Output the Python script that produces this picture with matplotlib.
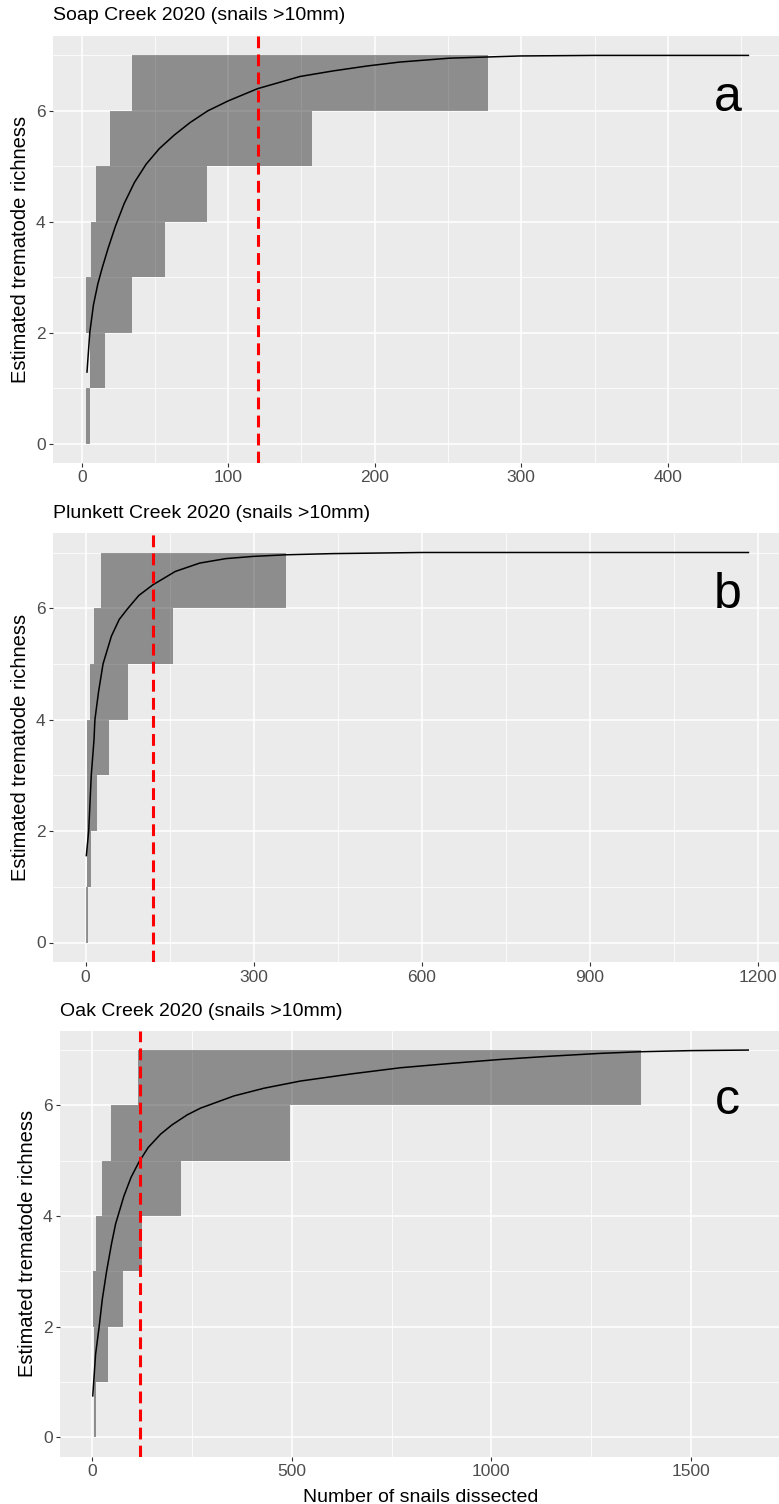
import matplotlib
matplotlib.use("Agg")
import matplotlib.pyplot as plt
import matplotlib.transforms as mtransforms
from matplotlib.ticker import MultipleLocator

plt.rcParams["font.family"] = ["Liberation Sans", "DejaVu Sans"]
plt.rcParams["lines.scale_dashes"] = False

W, H, DPI = 779, 1504, 100

# richness levels bounding each confidence step
levels = [0, 1, 2, 3, 4, 5, 6, 7]
cutoff = 120

# --- Soap Creek ---
soap_title = "Soap Creek 2020 (snails >10mm)"
soap_n = [3.6, 5.5, 8, 11, 14, 18, 23, 29, 36, 44, 53, 63, 74, 86, 100, 120,
          149, 171.5, 195, 217, 251, 299, 350, 400, 455]
soap_s = [1.29, 2.0, 2.5, 2.88, 3.17, 3.52, 3.92, 4.33, 4.71, 5.04, 5.32,
          5.56, 5.79, 6.0, 6.18, 6.40, 6.62, 6.72, 6.81, 6.88, 6.95, 6.99,
          7.0, 7.0, 7.0]
soap_lo = [3.0, 5.9, 3.2, 6.6, 10, 19, 34, 34]
soap_hi = [5.9, 16, 34, 57, 85.5, 157, 277, 277]

# --- Plunkett Creek ---
plk_title = "Plunkett Creek 2020 (snails >10mm)"
plk_n = [1.2, 5.4, 10, 14.9, 16.5, 23, 31, 46, 60, 75.6, 95, 120, 160,
         203.6, 250, 298.8, 360, 441, 600, 800, 1000, 1183]
plk_s = [1.56, 2.0, 3.0, 3.64, 4.0, 4.5, 5.0, 5.5, 5.8, 6.0, 6.23, 6.42,
         6.66, 6.81, 6.89, 6.93, 6.96, 6.98, 7.0, 7.0, 7.0, 7.0]
plk_lo = [0.8, 2.4, 2.4, 2.4, 7.1, 14.9, 28, 28]
plk_hi = [3.5, 10, 20, 41.7, 75.6, 156, 358, 358]

# --- Oak Creek ---
oak_title = "Oak Creek 2020 (snails >10mm)"
oak_n = [1, 8, 17, 25, 35.6, 48, 58.3, 79, 97, 117, 140, 171, 200, 238, 271,
         354.5, 430, 521.5, 650, 772, 900, 1022, 1150, 1273, 1373, 1500, 1644]
oak_s = [0.75, 1.5, 2.0, 2.5, 3.0, 3.5, 3.86, 4.36, 4.7, 4.98, 5.24, 5.48,
         5.65, 5.83, 5.95, 6.17, 6.31, 6.44, 6.57, 6.68, 6.76, 6.83, 6.89,
         6.94, 6.97, 6.99, 7.0]
oak_lo = [3, 4.8, 2.3, 10, 25, 47.6, 115, 115]
oak_hi = [10, 38, 76, 124, 221, 496, 1375, 1375]

x_major = [100, 300, 500]
letters = ["a", "b", "c"]
letter_base = [6.0, 6.0, 5.84]

panels = [
    dict(title=soap_title, n=soap_n, s=soap_s, lo=soap_lo, hi=soap_hi),
    dict(title=plk_title, n=plk_n, s=plk_s, lo=plk_lo, hi=plk_hi),
    dict(title=oak_title, n=oak_n, s=oak_s, lo=oak_lo, hi=oak_hi),
]

# panel boxes in pixels: left, top, right, bottom
boxes = [(53, 36, 781.5, 463), (53, 533, 781.5, 962), (60, 1030.7, 781, 1456.7)]
title_y = [15.3, 513, 1011.5]
ylab_x = [20.8, 20.8, 27.8]

fig = plt.figure(figsize=(W / DPI, H / DPI), dpi=DPI)

for i, p in enumerate(panels):
    l, t, r, b = boxes[i]
    ax = fig.add_axes([l / W, 1 - b / H, (r - l) / W, (b - t) / H])
    ax.set_facecolor("#EBEBEB")
    for sp in ax.spines.values():
        sp.set_visible(False)

    xmin = min(min(p["lo"]), min(p["n"]))
    xmax = max(max(p["hi"]), max(p["n"]))
    pad = 0.05 * (xmax - xmin)
    ax.set_xlim(xmin - pad, xmax + pad)
    ax.set_ylim(-0.35, 7.35)

    ax.xaxis.set_major_locator(MultipleLocator(x_major[i]))
    ax.xaxis.set_minor_locator(MultipleLocator(x_major[i] / 2))
    ax.yaxis.set_major_locator(MultipleLocator(2))
    ax.yaxis.set_minor_locator(MultipleLocator(1))
    ax.grid(which="major", color="white", linewidth=1.1)
    ax.grid(which="minor", color="white", linewidth=0.55)
    ax.set_axisbelow(True)
    ax.tick_params(which="major", length=2.9, width=0.8, color="#333333",
                   labelcolor="#4D4D4D", labelsize=12.5, pad=2.5)
    ax.tick_params(which="minor", length=0)

    ax.fill_betweenx(levels, p["lo"], p["hi"], step="post",
                     color="black", alpha=0.4, linewidth=0)
    ax.plot(p["n"], p["s"], color="black", linewidth=1.1)
    ax.axvline(cutoff, color="red", linewidth=2.2, dashes=(8.5, 4.5))

    trans = mtransforms.blended_transform_factory(ax.transAxes, ax.transData)
    ax.text(0.926, letter_base[i], letters[i], transform=trans, ha="center",
            va="baseline", fontsize=36, color="black")

    fig.text(l / W, 1 - title_y[i] / H, p["title"], ha="left", va="center",
             fontsize=14, color="black")
    fig.text(ylab_x[i] / W, 1 - (t + b) / 2 / H, "Estimated trematode richness",
             rotation=90, ha="center", va="center", fontsize=14.5, color="black")

fig.text((60 + 781) / 2 / W, 1 - 1502 / H, "Number of snails dissected",
         ha="center", va="baseline", fontsize=14, color="black")

fig.savefig("out.png", dpi=DPI)
